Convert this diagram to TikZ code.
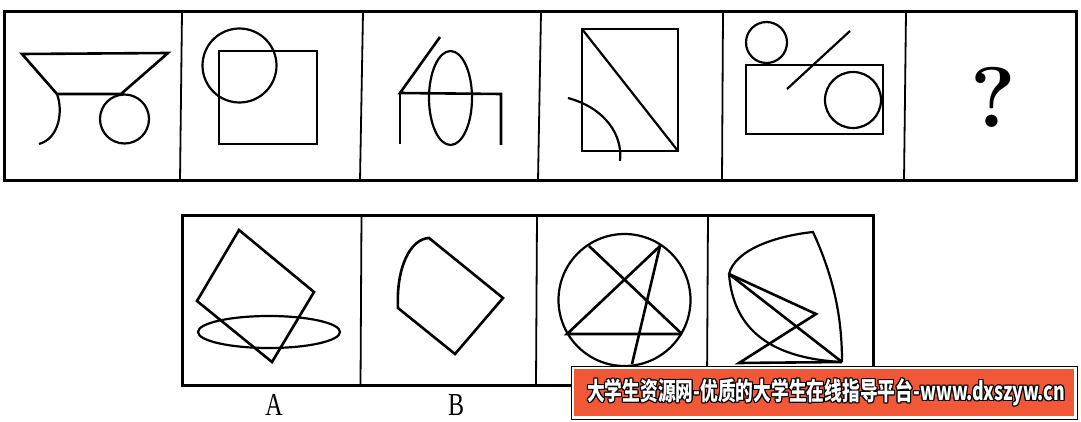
\documentclass[tikz,border=0pt]{standalone}
\usepackage{fontspec}
\usetikzlibrary{calc,positioning}
\newfontfamily\cjk{Noto Sans CJK SC}
\newfontfamily\labelfont{Liberation Serif}
\definecolor{bannerred}{RGB}{240,88,56}

\begin{document}
\begin{tikzpicture}[x=1pt,y=-1pt,
  frame/.style={line width=3pt},
  divider/.style={line width=1.8pt},
  fig/.style={line width=2.6pt},
  thinfig/.style={line width=2.2pt},
  optlabel/.style={font=\labelfont\fontsize{32}{32}\selectfont}]
  \useasboundingbox (0,0) rectangle (1081,422);

  \draw[frame] (4,12) rectangle (1076,181);
  \draw[divider] (182,12) -- (180,181);
  \draw[divider] (363,12) -- (360,181);
  \draw[divider] (541,12) -- (538,181);
  \draw[divider] (723,12) -- (722,181);
  \draw[divider] (906,12) -- (904,181);

  \draw[fig] (57,94) -- (22,54) -- (168,53) -- (121,94) -- cycle;
  \draw[thinfig] (124.5,119) circle [radius=24.5];
  \draw[thinfig] (57,94) .. controls (63,110) and (60,138) .. (39,144);

  \draw[thinfig] (239.5,65.5) circle [radius=37];
  \draw[fig] (219,51) rectangle (317,144);

  \draw[fig] (440,37) -- (400,93) -- (501,94) -- (501,145);
  \draw[fig] (400,93) -- (400,144);
  \draw[thinfig] (450.5,98) ellipse [x radius=21.5, y radius=47];

  \draw[fig] (582,29) rectangle (678,151);
  \draw[thinfig] (582,29) -- (678,151);
  \draw[thinfig] (568,98) .. controls (605,108) and (623,135) .. (620,161);

  \draw[thinfig] (766.5,42.5) circle [radius=20.5];
  \draw[fig] (746,65) rectangle (883,134);
  \draw[thinfig] (853,100) circle [radius=28];
  \draw[thinfig] (850,31) -- (787,89);

  \node (qmark) at (993,97.5) {\fontsize{86}{86}\selectfont\bfseries ?};

  \draw[frame] (182,215) rectangle (873,385);
  \draw[divider] (361.5,215) -- (360.5,385);
  \draw[divider] (537,215) -- (536,385);
  \draw[divider] (708,215) -- (707,385);

  \draw[fig] (239,230) -- (314,292) -- (272,362) -- (197,301) -- cycle;
  \draw[thinfig] (269,332) ellipse [x radius=71, y radius=16];

  \draw[fig] (398,308) .. controls (396,268) and (410,239) .. (429,238) -- (503,298) -- (455,354) -- cycle;

  \draw[thinfig] (624.5,300) circle [radius=66];
  \draw[fig] (589,246) -- (682,334);
  \draw[fig] (660,246) -- (567,334) -- (682,334);
  \draw[fig] (660,246) -- (632,364);

  \draw[thinfig] (729,274) .. controls (735,250) and (775,236) .. (813,232)
    .. controls (835,280) and (842,320) .. (842,362);
  \draw[thinfig] (729,274) .. controls (733,325) and (765,358) .. (842,362);
  \draw[fig] (729,274) -- (816,314) -- (739,363) -- (842,362);
  \draw[fig] (729,274) -- (842,362);

  \node[optlabel] (labA) at (274,405) {\scalebox{0.75}[1]{A}};
  \node[optlabel] (labB) at (456,405) {\scalebox{0.75}[1]{B}};

  \fill[black] (570.5,365.5) rectangle (1078,419.5);
  \fill[white] (571.5,366.5) rectangle (1077,418.5);
  \fill[bannerred] (574,369) rectangle (1074,416);
  \foreach \dx/\dy [count=\i] in {-1/-1,0/-1,1/-1,-1/0,1/0,-1/1,0/1,1/1}
    \node[text=black] (shadow\i) at (826+\dx,392+\dy)
      {\cjk\bfseries\fontsize{25}{25}\selectfont\scalebox{0.71}[1]{大学生资源网-优质的大学生在线指导平台-www.dxszyw.cn}};
  \node[text=white] (banner) at (826,392)
    {\cjk\bfseries\fontsize{25}{25}\selectfont\scalebox{0.71}[1]{大学生资源网-优质的大学生在线指导平台-www.dxszyw.cn}};
\end{tikzpicture}
\end{document}
